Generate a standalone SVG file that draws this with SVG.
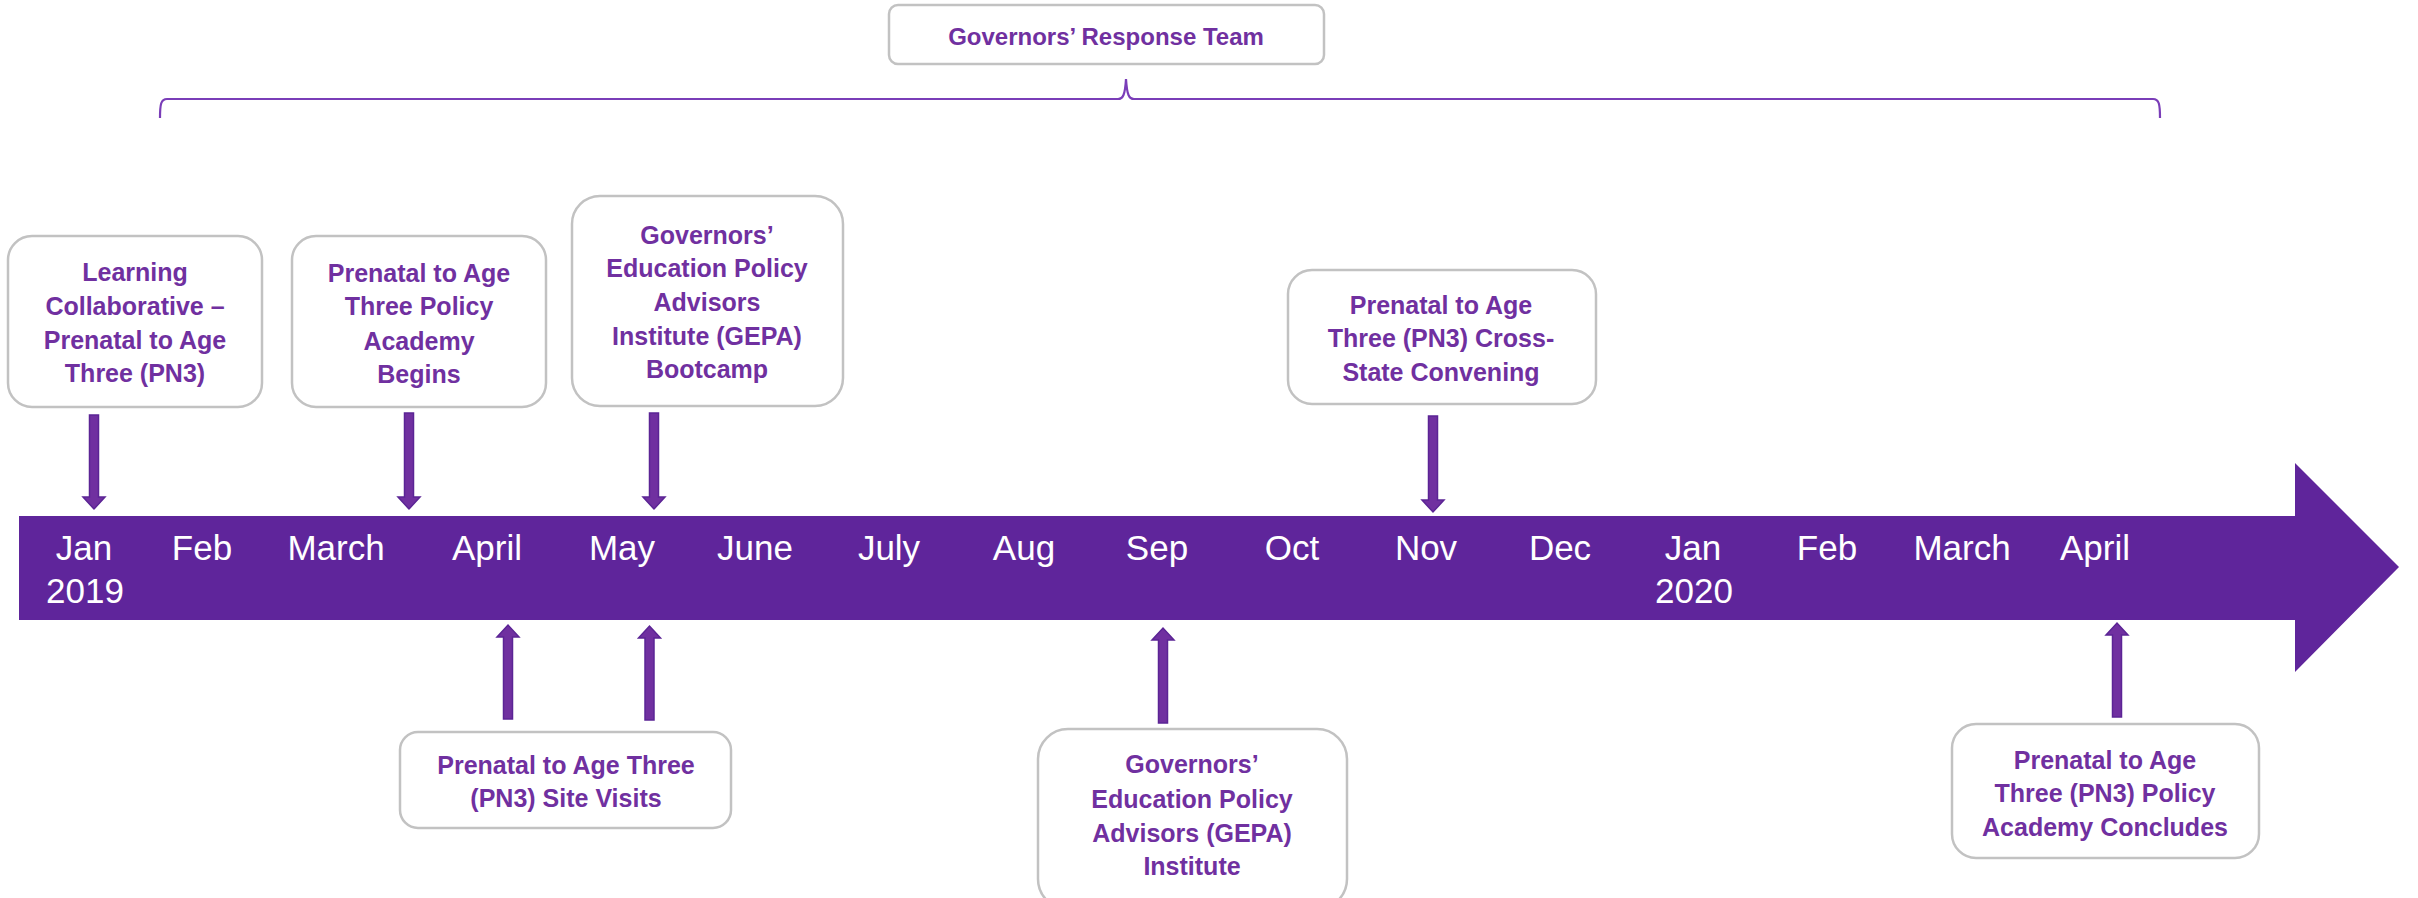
<svg xmlns="http://www.w3.org/2000/svg" width="2418" height="898" viewBox="0 0 2418 898">
<style>
.box{fill:#ffffff;stroke:#c2c2c2;stroke-width:2.5}
.bt{font-family:"Liberation Sans",Arial,sans-serif;font-weight:bold;font-size:25px;fill:#7030a0;text-anchor:middle}
.mt{font-family:"Liberation Sans",Arial,sans-serif;font-size:35px;fill:#ffffff;text-anchor:middle}
.arr{fill:#7030a0;stroke:#5b2495;stroke-width:1.5;stroke-linejoin:miter}
.brace{fill:none;stroke:#7a3db8;stroke-width:2.2}
</style>
<rect width="2418" height="898" fill="#ffffff"/>
<g id="timeline">
<polygon points="19,516 2295,516 2295,463 2399,567 2295,672 2295,620 19,620" fill="#5f259b"/>
<text class="mt" x="84" y="560">Jan</text>
<text class="mt" x="85" y="603">2019</text>
<text class="mt" x="202" y="560">Feb</text>
<text class="mt" x="336" y="560">March</text>
<text class="mt" x="487" y="560">April</text>
<text class="mt" x="622" y="560">May</text>
<text class="mt" x="755" y="560">June</text>
<text class="mt" x="889" y="560">July</text>
<text class="mt" x="1024" y="560">Aug</text>
<text class="mt" x="1157" y="560">Sep</text>
<text class="mt" x="1292" y="560">Oct</text>
<text class="mt" x="1426" y="560">Nov</text>
<text class="mt" x="1560" y="560">Dec</text>
<text class="mt" x="1693" y="560">Jan</text>
<text class="mt" x="1694" y="603">2020</text>
<text class="mt" x="1827" y="560">Feb</text>
<text class="mt" x="1962" y="560">March</text>
<text class="mt" x="2095" y="560">April</text>
</g>
<g id="response-team">
<rect class="box" x="889" y="5" width="435" height="59" rx="9"/>
<text class="bt" x="1106" y="45" style="font-size:24px">Governors’ Response Team</text>
</g>
<g id="learning-collaborative">
<rect class="box" x="8" y="236" width="254" height="171" rx="24"/>
<text class="bt" x="135" y="281">Learning</text>
<text class="bt" x="135" y="315">Collaborative –</text>
<text class="bt" x="135" y="349">Prenatal to Age</text>
<text class="bt" x="135" y="382">Three (PN3)</text>
</g>
<g id="academy-begins">
<rect class="box" x="292" y="236" width="254" height="171" rx="24"/>
<text class="bt" x="419" y="282">Prenatal to Age</text>
<text class="bt" x="419" y="315">Three Policy</text>
<text class="bt" x="419" y="350">Academy</text>
<text class="bt" x="419" y="383">Begins</text>
</g>
<g id="gepa-bootcamp">
<rect class="box" x="572" y="196" width="271" height="210" rx="28"/>
<text class="bt" x="707" y="244">Governors’</text>
<text class="bt" x="707" y="277">Education Policy</text>
<text class="bt" x="707" y="311">Advisors</text>
<text class="bt" x="707" y="345">Institute (GEPA)</text>
<text class="bt" x="707" y="378">Bootcamp</text>
</g>
<g id="cross-state">
<rect class="box" x="1288" y="270" width="308" height="134" rx="24"/>
<text class="bt" x="1441" y="314">Prenatal to Age</text>
<text class="bt" x="1441" y="347">Three (PN3) Cross-</text>
<text class="bt" x="1441" y="381">State Convening</text>
</g>
<g id="site-visits">
<rect class="box" x="400" y="732" width="331" height="96" rx="18"/>
<text class="bt" x="566" y="774">Prenatal to Age Three</text>
<text class="bt" x="566" y="807">(PN3) Site Visits</text>
</g>
<g id="gepa-institute">
<rect class="box" x="1038" y="729" width="309" height="180" rx="30"/>
<text class="bt" x="1192" y="773">Governors’</text>
<text class="bt" x="1192" y="808">Education Policy</text>
<text class="bt" x="1192" y="842">Advisors (GEPA)</text>
<text class="bt" x="1192" y="875">Institute</text>
</g>
<g id="academy-concludes">
<rect class="box" x="1952" y="724" width="307" height="134" rx="24"/>
<text class="bt" x="2105" y="769">Prenatal to Age</text>
<text class="bt" x="2105" y="802">Three (PN3) Policy</text>
<text class="bt" x="2105" y="836">Academy Concludes</text>
</g>
<g id="connectors">
<path class="brace" d="M160,118 C160,104 161,99 167,99 L1118,99 C1123,99 1125,95 1126,79 C1127,95 1129,99 1134,99 L2153,99 C2159,99 2160,104 2160,118"/>
<polygon class="arr" points="89.5,415 98.5,415 98.5,497 105,497 94,509 83,497 89.5,497"/>
<polygon class="arr" points="404.5,413 413.5,413 413.5,497 420,497 409,509 398,497 404.5,497"/>
<polygon class="arr" points="649.5,413 658.5,413 658.5,497 665,497 654,509 643,497 649.5,497"/>
<polygon class="arr" points="1428.5,416 1437.5,416 1437.5,500 1444,500 1433,512 1422,500 1428.5,500"/>
<polygon class="arr" points="503.5,719 512.5,719 512.5,637 519,637 508,625 497,637 503.5,637"/>
<polygon class="arr" points="645,720 654,720 654,638 660.5,638 649.5,626 638.5,638 645,638"/>
<polygon class="arr" points="1158.5,723 1167.5,723 1167.5,640 1174,640 1163,628 1152,640 1158.5,640"/>
<polygon class="arr" points="2112.5,717 2121.5,717 2121.5,635 2128,635 2117,623 2106,635 2112.5,635"/>
</g>
</svg>
